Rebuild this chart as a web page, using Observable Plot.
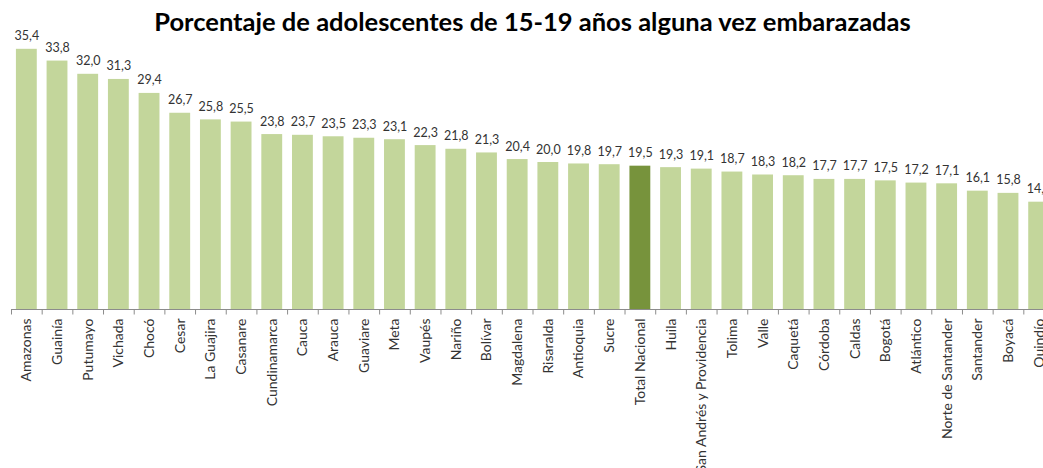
<!DOCTYPE html>
<html>
<head>
<meta charset="utf-8">
<script src="https://cdn.jsdelivr.net/npm/d3@7"></script>
<script src="https://cdn.jsdelivr.net/npm/@observablehq/plot@0.6"></script>
<style>
  html, body { margin: 0; padding: 0; background: #fff; overflow: hidden; width: 1043px; height: 468px; }
  #wrap { position: relative; width: 1043px; height: 468px; overflow: hidden; }
  #title { position: absolute; left: 0; top: 6px; width: 1065px; text-align: center; font-family: Lato, "Open Sans", sans-serif; font-weight: bold; font-size: 25.5px; line-height: 30px; color: #000; z-index: 2; }
  #chart svg { max-width: none !important; display: block; }
</style>
</head>
<body>
<div id="wrap">
  <div id="title">Porcentaje de adolescentes de 15-19 años alguna vez embarazadas</div>
  <div id="chart"></div>
</div>
<script>
const categories = ["Amazonas","Guainía","Putumayo","Vichada","Chocó","Cesar","La Guajira","Casanare","Cundinamarca","Cauca","Arauca","Guaviare","Meta","Vaupés","Nariño","Bolívar","Magdalena","Risaralda","Antioquia","Sucre","Total Nacional","Huila","San Andrés y Providencia","Tolima","Valle","Caquetá","Córdoba","Caldas","Bogotá","Atlántico","Norte de Santander","Santander","Boyacá","Quindío"];
const values = [35.4,33.8,32.0,31.3,29.4,26.7,25.8,25.5,23.8,23.7,23.5,23.3,23.1,22.3,21.8,21.3,20.4,20.0,19.8,19.7,19.5,19.3,19.1,18.7,18.3,18.2,17.7,17.7,17.5,17.2,17.1,16.1,15.8,14.6];
const highlight = "Total Nacional";
const lightGreen = "#c3d69b";
const darkGreen = "#77933c";

const data = categories.map((name, i) => ({name, value: values[i]}));

const W = 1075, ML = 11, MR = 21;
const step = (W - ML - MR) / categories.length;
const fmt = v => v.toFixed(1).replace(".", ",");

const plot = Plot.plot({
  width: W,
  height: 468,
  marginLeft: ML,
  marginRight: MR,
  marginTop: 15,
  marginBottom: 159,
  style: {fontFamily: "Lato, 'Open Sans', sans-serif", color: "#333", maxWidth: "none", background: "#fff"},
  x: {domain: categories, paddingInner: 0.32, paddingOuter: 0.16, round: false, label: null},
  y: {domain: [0, 40], axis: null},
  marks: [
    Plot.barY(data, {x: "name", y: "value", fill: d => d.name === highlight ? darkGreen : lightGreen}),
    Plot.text(data, {x: "name", y: "value", text: d => fmt(d.value), lineAnchor: "bottom", dy: -9, fontSize: 12.5, fill: "#333"}),
    Plot.ruleY([0], {stroke: "#8c8c8c", strokeWidth: 1}),
    Plot.ruleX(categories, {x: d => d, dx: -step / 2, y1: 0, y2: -0.75, stroke: "#8c8c8c", strokeWidth: 1}),
    Plot.axisX({tickRotate: -90, tickSize: 0, tickPadding: 9, fontSize: 14, fill: "#333", label: null})
  ]
});
document.getElementById("chart").appendChild(plot);
</script>
</body>
</html>
